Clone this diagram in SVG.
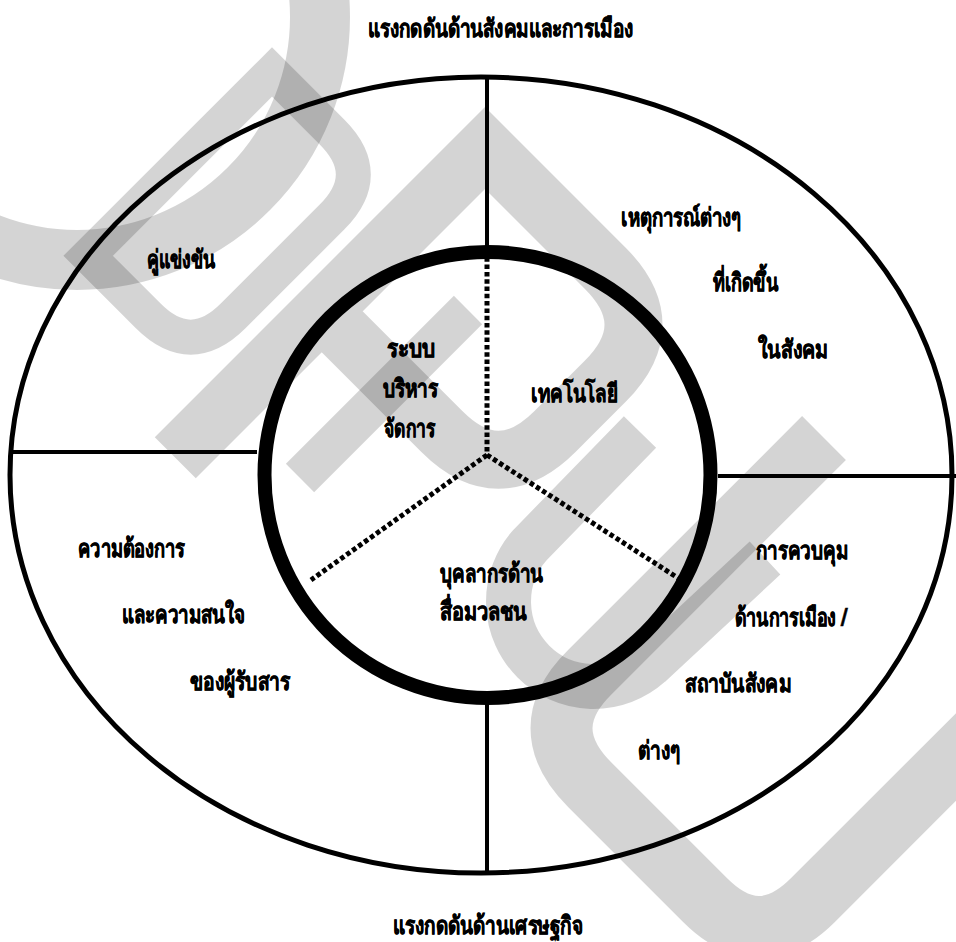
<svg xmlns="http://www.w3.org/2000/svg" width="956" height="942" viewBox="0 0 956 942">
<style>
.wm{fill:none;stroke:#000;stroke-opacity:0.17;stroke-linejoin:miter}
.ln{fill:none;stroke:#000;stroke-width:4}
.dot{fill:none;stroke:#000;stroke-width:5;stroke-dasharray:4.5 2.8}
text{font-family:"Noto Sans","DejaVu Sans",sans-serif;font-weight:bold;font-size:25px;fill:#000;stroke:#000;stroke-width:0.6}
</style>
<rect width="956" height="942" fill="#fff"/>
<g id="watermark">
<circle class="wm" cx="77" cy="17" r="243" stroke-width="60"/>
<path class="wm" stroke-width="35" transform="translate(272,72) rotate(135)" d="M0,0 L260,0 L260,-85 Q260,-145 200,-145 L60,-145 Q0,-145 0,-85 Z"/>
<path class="wm" stroke-width="58" transform="translate(485,148) rotate(135)" d="M438,0 L0,0 L0,-170 Q0,-250 80,-250 L151,-250 Q231,-250 231,-170 L231,0"/>
<path class="wm" stroke-width="40" d="M300,478 L468,310"/>
<path class="wm" stroke-width="62" d="M824,438 L590,672 Q533,728 590,785 L705,900 Q759,954 813,900 L1000,713"/>
<path class="wm" stroke-width="45" d="M640,432 L530,545 A85,85 0 0 0 650,665 L765,558"/>
</g>
<g id="frame">
<ellipse cx="481" cy="475" rx="471" ry="398" fill="none" stroke="#000" stroke-width="5"/>
<circle cx="487.5" cy="475" r="223" fill="none" stroke="#000" stroke-width="14"/>
</g>
<g id="connectors">
<line class="ln" x1="487" y1="77" x2="487" y2="247"/>
<line class="ln" x1="487" y1="704" x2="487" y2="873"/>
<line class="ln" x1="11" y1="452" x2="257" y2="452"/>
<line class="ln" x1="718" y1="476" x2="956" y2="476"/>
<line class="dot" x1="487" y1="250" x2="487" y2="455"/>
<line class="dot" x1="487" y1="455" x2="678" y2="578"/>
<line class="dot" x1="487" y1="455" x2="311" y2="580"/>
</g>
<g id="title-top"><text x="368" y="37" textLength="265" lengthAdjust="spacingAndGlyphs">แรงกดดันด้านสังคมและการเมือง</text></g>
<g id="title-bottom"><text x="393" y="934" textLength="190" lengthAdjust="spacingAndGlyphs">แรงกดดันด้านเศรษฐกิจ</text></g>
<g id="competitors"><text x="147" y="268" textLength="68" lengthAdjust="spacingAndGlyphs">คู่แข่งขัน</text></g>
<g id="events">
<text x="621" y="226" textLength="120" lengthAdjust="spacingAndGlyphs">เหตุการณ์ต่างๆ</text>
<text x="713" y="291" textLength="65" lengthAdjust="spacingAndGlyphs">ที่เกิดขึ้น</text>
<text x="758" y="358" textLength="70" lengthAdjust="spacingAndGlyphs">ในสังคม</text>
</g>
<g id="management">
<text x="387" y="357" textLength="48" lengthAdjust="spacingAndGlyphs">ระบบ</text>
<text x="383" y="397" textLength="55" lengthAdjust="spacingAndGlyphs">บริหาร</text>
<text x="384" y="437" textLength="51" lengthAdjust="spacingAndGlyphs">จัดการ</text>
</g>
<g id="technology"><text x="531" y="402" textLength="87" lengthAdjust="spacingAndGlyphs">เทคโนโลยี</text></g>
<g id="media-personnel">
<text x="440" y="582" textLength="103" lengthAdjust="spacingAndGlyphs">บุคลากรด้าน</text>
<text x="440" y="620" textLength="87" lengthAdjust="spacingAndGlyphs">สื่อมวลชน</text>
</g>
<g id="audience">
<text x="78" y="557" textLength="107" lengthAdjust="spacingAndGlyphs">ความต้องการ</text>
<text x="122" y="623" textLength="123" lengthAdjust="spacingAndGlyphs">และความสนใจ</text>
<text x="190" y="690" textLength="100" lengthAdjust="spacingAndGlyphs">ของผู้รับสาร</text>
</g>
<g id="control">
<text x="756" y="559" textLength="92" lengthAdjust="spacingAndGlyphs">การควบคุม</text>
<text x="735" y="626" textLength="113" lengthAdjust="spacingAndGlyphs">ด้านการเมือง /</text>
<text x="685" y="692" textLength="106" lengthAdjust="spacingAndGlyphs">สถาบันสังคม</text>
<text x="638" y="759" textLength="42" lengthAdjust="spacingAndGlyphs">ต่างๆ</text>
</g>
</svg>
